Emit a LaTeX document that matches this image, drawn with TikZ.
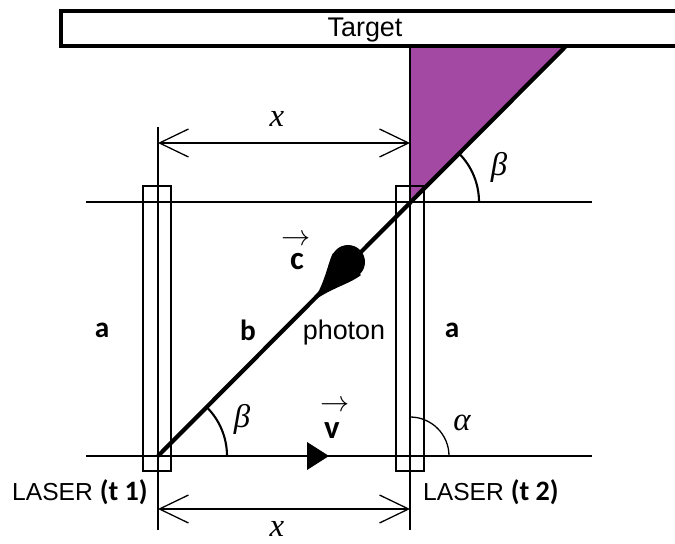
\documentclass[tikz,border=0pt]{standalone}
\usepackage{fontspec}
\setmainfont{Liberation Sans}
\newfontfamily\calibrifont{Carlito}
\newfontfamily\timesfont{Liberation Serif}
\usetikzlibrary{arrows.meta}
\definecolor{paintpurple}{RGB}{163,73,164}

\begin{document}
\begin{tikzpicture}[x=0.03cm,y=0.03cm,
    >={Straight Barb[length=0.87cm,width=0.84cm]},
    thinline/.style={line width=1.1pt},
    laserbox/.style={draw,line width=1.1pt,minimum width=0.84cm,minimum height=8.55cm,inner sep=0pt},
    boldlabel/.style={font=\calibrifont\bfseries\fontsize{25}{28}\selectfont,inner sep=0pt},
    veclabel/.style={font=\calibrifont\bfseries\fontsize{28}{30}\selectfont,inner sep=0pt},
    greek/.style={font=\timesfont\itshape\fontsize{28}{30}\selectfont,inner sep=0pt},
    sanslabel/.style={font=\fontsize{23}{26}\selectfont,inner sep=0pt}]
  \useasboundingbox (0,0) rectangle (675,-544);
  \clip (0,0) rectangle (675,-544);
  % points
  \coordinate (L1) at (158,-456);
  \coordinate (L2) at (410,-456);
  \coordinate (M2) at (410,-202);
  \coordinate (T2) at (410,-46);
  \coordinate (hit) at (566,-46);
  \fill[paintpurple] (T2) -- (hit) -- (M2) -- cycle;
  % rails
  \foreach \y in {-202,-456} {
    \draw[thinline] (86,\y) -- (592,\y);
  }
  \foreach \x/\name in {157/laser1, 410/laser2} {
    \node[laserbox] (\name) at (\x,-328.5) {};
  }
  \draw[thinline] (158,-127) -- (158,-530);
  \draw[thinline] (T2) -- (410,-530);
  % dimensions
  \foreach \y/\ly [count=\i] in {-143/-119, -509/-529} {
    \coordinate (dimL\i) at (158,\y);
    \coordinate (dimR\i) at (410,\y);
    \draw[thinline,<->] (dimL\i) -- (dimR\i);
    \node[greek] (x\i) at (277,\ly) {x};
  }
  % photon path
  \draw[line width=3.6pt] (L1) -- (hit);
  \fill (348,-262) circle (17);
  \fill (311,-303) .. controls (324,-288) and (328,-262) .. (333,-253) -- (361,-275) .. controls (350,-284) and (328,-289) .. (311,-303) -- cycle;
  \fill (307,-442) -- (329,-456) -- (307,-470) -- cycle;
  % angles
  \draw[line width=1.8pt] ([shift={(0:2.07cm)}]L1) arc[start angle=0,end angle=45,radius=2.07cm];
  \draw[line width=1.8pt] ([shift={(0:2.07cm)}]M2) arc[start angle=0,end angle=45,radius=2.07cm];
  \draw[thinline] ([shift={(0:1.17cm)}]L2) arc[start angle=0,end angle=90,radius=1.17cm];
  \node[greek] (beta1) at (242,-419) {β};
  \node[greek] (beta2) at (499,-167) {β};
  \node[greek] (alpha) at (462,-423) {α};
  % labels
  \node[boldlabel,anchor=base] (a1) at (102,-337) {a};
  \node[boldlabel,anchor=base] (a2) at (452,-337) {a};
  \node[boldlabel,anchor=base] (b) at (248,-340) {b};
  \node[sanslabel,anchor=base] (photon) at (344,-339) {photon};
  \node[veclabel,anchor=base] (c) at (297,-270) {c};
  \node[font=\fontsize{25}{28}\selectfont,inner sep=0pt] (carrow) at (296,-240) {$\rightarrow$};
  \node[veclabel,anchor=base] (v) at (332,-438) {v};
  \node[font=\fontsize{25}{28}\selectfont,inner sep=0pt] (varrow) at (335,-406) {$\rightarrow$};
  \node[anchor=base west,inner sep=0pt,font=\fontsize{21}{24}\selectfont] (laser1label) at (12,-500) {LASER {\calibrifont\bfseries\fontsize{24}{26}\selectfont(t 1)}};
  \node[anchor=base west,inner sep=0pt,font=\fontsize{21}{24}\selectfont] (laser2label) at (423,-500) {LASER {\calibrifont\bfseries\fontsize{24}{26}\selectfont(t 2)}};
  % target
  \draw[line width=2.8pt,fill=white] (61,-11) rectangle (700,-46);
  \node[sanslabel,anchor=base] (target) at (365,-37) {Target};
\end{tikzpicture}
\end{document}
